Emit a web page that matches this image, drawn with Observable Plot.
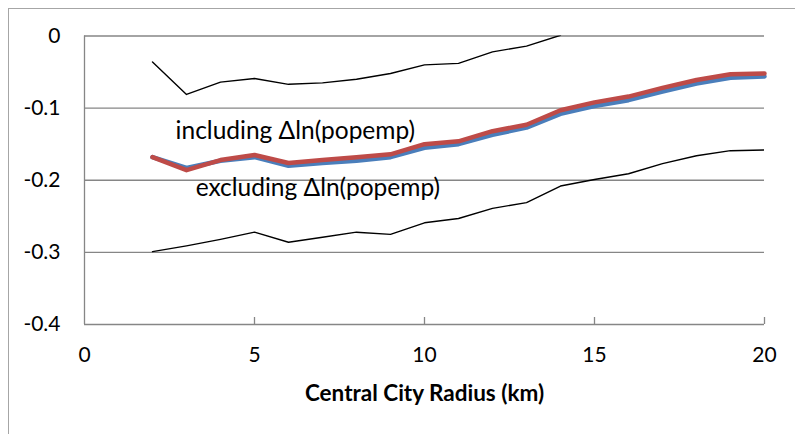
<!DOCTYPE html>
<html><head><meta charset="utf-8">
<script src="https://cdn.jsdelivr.net/npm/d3@7"></script>
<script src="https://cdn.jsdelivr.net/npm/@observablehq/plot@0.6"></script>
<style>
body{margin:0;background:#fff;}
#wrap{position:relative;width:795px;height:434px;overflow:hidden;}
#frame{position:absolute;left:8px;top:8px;width:900px;height:600px;border-left:1px solid #a6a6a6;border-top:1px solid #a6a6a6;}
#wrap svg{position:absolute;left:0;top:0;}
</style></head>
<body><div id="wrap"><div id="frame"></div></div>
<script>
const radius = [2,3,4,5,6,7,8,9,10,11,12,13,14,15,16,17,18,19,20];
const upperCI = [-0.036,-0.081,-0.064,-0.059,-0.067,-0.065,-0.060,-0.052,-0.040,-0.038,-0.022,-0.014,0.001];
const lowerCI = [-0.299,-0.291,-0.282,-0.272,-0.286,-0.279,-0.272,-0.275,-0.259,-0.253,-0.239,-0.231,-0.208,-0.199,-0.191,-0.177,-0.166,-0.159,-0.158];
const including = [-0.168,-0.186,-0.172,-0.165,-0.176,-0.172,-0.168,-0.164,-0.150,-0.146,-0.132,-0.123,-0.103,-0.092,-0.084,-0.072,-0.061,-0.053,-0.052];
const excluding = [-0.168,-0.183,-0.173,-0.168,-0.180,-0.176,-0.173,-0.168,-0.155,-0.150,-0.137,-0.127,-0.108,-0.097,-0.089,-0.077,-0.066,-0.058,-0.056];
const yTicks = [0,-0.1,-0.2,-0.3,-0.4];
const xTicks = [0,5,10,15,20];
const xLabel = "Central City Radius (km)";
const labelIncl = "including \u0394ln(popemp)";
const labelExcl = "excluding \u0394ln(popemp)";

const mk = arr => arr.map((v,i)=>({x:radius[i], y:v}));
const fontFam = "Lato, sans-serif";
const fmt = d => d===0 ? "0" : d.toFixed(1).replace("\u2212","-");

const chart = Plot.plot({
  width:795, height:434,
  marginLeft:84, marginRight:31, marginTop:35.5, marginBottom:110,
  style:{fontFamily:fontFam, background:"transparent"},
  x:{domain:[0,20]},
  y:{domain:[-0.4,0]},
  marks:[
    Plot.ruleY(yTicks,{y:d=>d, x1:0, x2:20, stroke:"#868686", strokeWidth:1.3}),
    Plot.ruleX([0],{x:d=>d, y1:-0.4, y2:0, stroke:"#868686", strokeWidth:1.3}),
    Plot.ruleX(xTicks.slice(1),{x:d=>d, y1:-0.4, y2:-0.4, insetTop:-7, stroke:"#868686", strokeWidth:1.3}),
    Plot.axisY({ticks:yTicks, tickSize:0, tickPadding:24, tickFormat:fmt, fontSize:21, label:null, fill:"#000"}),
    Plot.axisX({ticks:xTicks, tickSize:0, tickPadding:23, tickFormat:d=>String(d), fontSize:21, label:null}),
    Plot.line(mk(upperCI),{x:"x", y:"y", stroke:"#000", strokeWidth:1.4, clip:true}),
    Plot.line(mk(lowerCI),{x:"x", y:"y", stroke:"#000", strokeWidth:1.4, clip:true}),
    Plot.line(mk(excluding),{x:"x", y:"y", stroke:"#4A7EBB", strokeWidth:4.5}),
    Plot.line(mk(including),{x:"x", y:"y", stroke:"#BE4B48", strokeWidth:4.5}),
    Plot.text([labelIncl],{text:d=>d, x:2.68, y:-0.132, textAnchor:"start", lineAnchor:"middle", fontSize:24.5, fill:"#000"}),
    Plot.text([labelExcl],{text:d=>d, x:3.27, y:-0.211, textAnchor:"start", lineAnchor:"middle", fontSize:24.5, fill:"#000"}),
    Plot.text([xLabel],{text:d=>d, frameAnchor:"bottom", dy:69, lineAnchor:"middle", fontSize:22.5, fontWeight:"bold", fill:"#000"})
  ]
});
document.getElementById("wrap").appendChild(chart);
</script>
</body></html>
